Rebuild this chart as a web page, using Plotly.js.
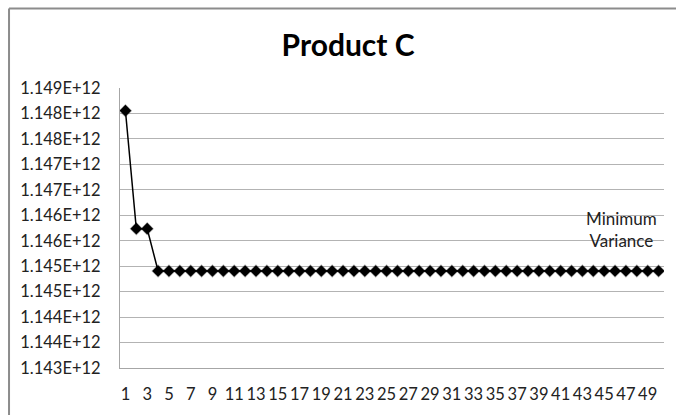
<!DOCTYPE html>
<html>
<head>
<meta charset="utf-8">
<script src="https://cdn.plot.ly/plotly-3.0.1.min.js"></script>
<style>html,body{margin:0;padding:0;background:#fff;}#chart{width:676px;height:415px;}</style>
</head>
<body>
<div id="chart"></div>
<script>
// Data
const iterations = [1,2,3,4,5,6,7,8,9,10,11,12,13,14,15,16,17,18,19,20,21,22,23,24,25,26,27,28,29,30,31,32,33,34,35,36,37,38,39,40,41,42,43,44,45,46,47,48,49,50];
const variance = [
  1.148054e12, 1.145736e12, 1.145736e12, 1.144905e12, 1.144905e12,
  1.144905e12, 1.144905e12, 1.144905e12, 1.144905e12, 1.144905e12,
  1.144905e12, 1.144905e12, 1.144905e12, 1.144905e12, 1.144905e12,
  1.144905e12, 1.144905e12, 1.144905e12, 1.144905e12, 1.144905e12,
  1.144905e12, 1.144905e12, 1.144905e12, 1.144905e12, 1.144905e12,
  1.144905e12, 1.144905e12, 1.144905e12, 1.144905e12, 1.144905e12,
  1.144905e12, 1.144905e12, 1.144905e12, 1.144905e12, 1.144905e12,
  1.144905e12, 1.144905e12, 1.144905e12, 1.144905e12, 1.144905e12,
  1.144905e12, 1.144905e12, 1.144905e12, 1.144905e12, 1.144905e12,
  1.144905e12, 1.144905e12, 1.144905e12, 1.144905e12, 1.144905e12
];
const xTickVals = [1,3,5,7,9,11,13,15,17,19,21,23,25,27,29,31,33,35,37,39,41,43,45,47,49];
const xTickText = ["1","3","5","7","9","11","13","15","17","19","21","23","25","27","29","31","33","35","37","39","41","43","45","47","49"];
const yTickVals = [1.143e12,1.1435e12,1.144e12,1.1445e12,1.145e12,1.1455e12,1.146e12,1.1465e12,1.147e12,1.1475e12,1.148e12,1.1485e12];
const yTickText = ["1.143E+12","1.144E+12","1.144E+12","1.145E+12","1.145E+12","1.146E+12","1.146E+12","1.147E+12","1.147E+12","1.148E+12","1.148E+12","1.149E+12"];
const titleText = "Product C";
const seriesName = "Minimum<br>Variance";

const FONT = "Lato, Liberation Sans, Arial, sans-serif";

const trace = {
  x: iterations,
  y: variance,
  type: 'scatter',
  mode: 'lines+markers',
  line: {color: '#000000', width: 1.5},
  marker: {symbol: 'diamond', size: 9, color: '#000000', line: {color: 'rgba(0,0,0,0.3)', width: 1.2}},
  showlegend: false,
  hoverinfo: 'skip'
};

const layout = {
  width: 676, height: 415,
  margin: {l: 120, r: 12, t: 88, b: 47, pad: 0},
  paper_bgcolor: '#ffffff',
  plot_bgcolor: '#ffffff',
  font: {family: FONT, size: 16, color: '#222222'},
  title: {
    text: '<b>' + titleText + '</b>',
    font: {family: FONT, size: 30, color: '#000000'},
    x: 0.515, xanchor: 'center', xref: 'container',
    y: 0.89, yanchor: 'middle', yref: 'container'
  },
  xaxis: {
    range: [0.5, 50.5],
    tickvals: xTickVals,
    ticktext: xTickText,
    ticks: '',
    showgrid: false,
    zeroline: false,
    showline: true,
    linecolor: '#a6a6a6',
    linewidth: 1,
    tickfont: {family: FONT, size: 16.5, color: '#222222'},
    ticklabelstandoff: 11,
    fixedrange: true
  },
  yaxis: {
    range: [1.143e12, 1.1485e12],
    tickvals: yTickVals,
    ticktext: yTickText,
    ticks: '',
    showgrid: true,
    gridcolor: '#b3b3b3',
    gridwidth: 1,
    zeroline: false,
    showline: true,
    linecolor: '#a6a6a6',
    linewidth: 1,
    tickfont: {family: FONT, size: 16.5, color: '#222222'},
    ticklabelstandoff: 15,
    fixedrange: true
  },
  annotations: [{
    text: seriesName,
    xref: 'paper', yref: 'paper',
    x: 0.922, y: 0.493,
    xanchor: 'center', yanchor: 'middle',
    showarrow: false,
    align: 'center',
    font: {family: FONT, size: 17, color: '#222222'}
  }],
  shapes: [
    {type: 'line', xref: 'paper', yref: 'paper', x0: -0.204, x1: 1.1, y0: 1.284, y1: 1.284, line: {color: '#8c8c8c', width: 2}},
    {type: 'line', xref: 'paper', yref: 'paper', x0: -0.204, x1: -0.204, y0: 1.284, y1: -0.3, line: {color: '#8c8c8c', width: 2}}
  ]
};

Plotly.newPlot('chart', [trace], layout, {staticPlot: true, displayModeBar: false});
</script>
</body>
</html>
